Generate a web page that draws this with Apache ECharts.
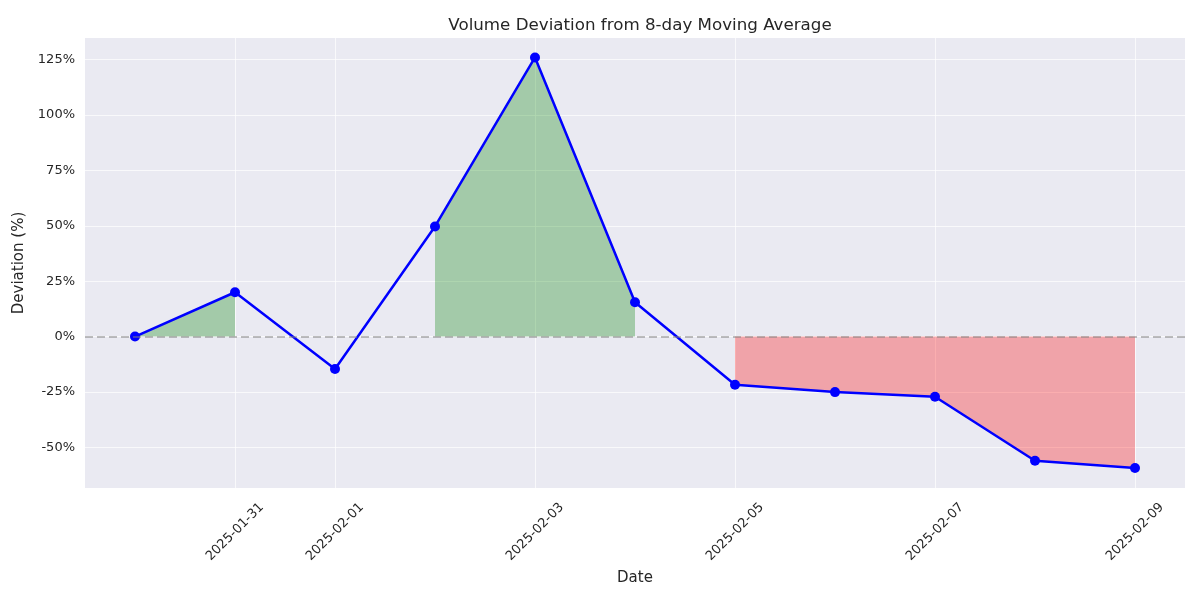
<!DOCTYPE html>
<html>
<head>
<meta charset="utf-8">
<script src="https://cdn.jsdelivr.net/npm/echarts@6/dist/echarts.min.js"></script>
<style>
  html, body { margin: 0; padding: 0; background: #fff; }
  #chart { width: 1200px; height: 600px; }
</style>
</head>
<body>
<div id="chart"></div>
<script>
  // dates of the points (one per day)
  var dates = ['2025-01-30', '2025-01-31', '2025-02-01', '2025-02-02', '2025-02-03', '2025-02-04',
               '2025-02-05', '2025-02-06', '2025-02-07', '2025-02-08', '2025-02-09'];
  // deviation from 8-day moving average, in %
  var deviation = [0, 20.0, -14.7, 49.7, 126.0, 15.5, -21.8, -25.1, -27.2, -56.1, -59.4];
  // tick labels shown on the axes
  var xTickDates = ['2025-01-31', '2025-02-01', '2025-02-03', '2025-02-05', '2025-02-07', '2025-02-09'];
  var yTicks = [-50, -25, 0, 25, 50, 75, 100, 125];

  var xTicks = xTickDates.map(function (d) { return dates.indexOf(d); });
  var linePts = deviation.map(function (v, i) { return [i, v]; });
  // fill_between: above zero -> green, below zero -> red
  var posPts = deviation.map(function (v, i) { return v >= 0 ? [i, v] : [i, '-']; });
  var negPts = deviation.map(function (v, i) { return v < 0 ? [i, v] : [i, '-']; });

  var txt = '#262626';
  var font = 'DejaVu Sans';

  var myChart = echarts.init(document.getElementById('chart'));
  var option = {
    backgroundColor: '#fff',
    animation: false,
    title: {
      text: 'Volume Deviation from 8-day Moving Average',
      left: 635,
      top: 12,
      textAlign: 'center',
      textStyle: { color: txt, fontFamily: font, fontSize: 16.7, fontWeight: 'normal' }
    },
    grid: {
      left: 85, right: 15, top: 38, bottom: 112,
      show: true, backgroundColor: '#EAEAF2', borderWidth: 0
    },
    xAxis: {
      type: 'value',
      min: -0.5,
      max: 10.5,
      name: 'Date',
      nameLocation: 'middle',
      nameGap: 82,
      nameTextStyle: { color: txt, fontFamily: font, fontSize: 15 },
      axisLine: { show: false },
      axisTick: { show: false, customValues: xTicks },
      splitLine: { show: true, lineStyle: { color: 'rgba(255,255,255,0.7)', width: 1 } },
      axisLabel: {
        customValues: xTicks,
        rotate: 45,
        align: 'center',
        verticalAlign: 'middle',
        margin: 44,
        color: txt, fontFamily: font, fontSize: 13,
        formatter: function (v) { return dates[Math.round(v)]; }
      }
    },
    yAxis: {
      type: 'value',
      min: -68.4,
      max: 134.8,
      name: 'Deviation (%)',
      nameLocation: 'middle',
      nameGap: 50,
      nameTextStyle: { color: txt, fontFamily: font, fontSize: 15 },
      axisLine: { show: false },
      axisTick: { show: false, customValues: yTicks },
      splitLine: { show: true, lineStyle: { color: 'rgba(255,255,255,0.7)', width: 1 } },
      axisLabel: {
        customValues: yTicks,
        margin: 10,
        color: txt, fontFamily: font, fontSize: 13,
        formatter: '{value}%'
      }
    },
    series: [
      {
        name: 'pos',
        type: 'line',
        data: posPts,
        showSymbol: false,
        connectNulls: false,
        lineStyle: { width: 0, opacity: 0 },
        areaStyle: { color: 'green', opacity: 0.3 },
        silent: true,
        z: 2
      },
      {
        name: 'neg',
        type: 'line',
        data: negPts,
        showSymbol: false,
        connectNulls: false,
        lineStyle: { width: 0, opacity: 0 },
        areaStyle: { color: 'red', opacity: 0.3 },
        silent: true,
        z: 2,
        markLine: {
          silent: true,
          symbol: 'none',
          label: { show: false },
          lineStyle: { color: 'rgba(128,128,128,0.5)', type: [8, 4], width: 2 },
          data: [{ yAxis: 0 }]
        }
      },
      {
        name: 'deviation',
        type: 'line',
        data: linePts,
        symbol: 'circle',
        symbolSize: 10,
        lineStyle: { color: '#0000ff', width: 2.5 },
        itemStyle: { color: '#0000ff' },
        z: 4
      }
    ]
  };
  myChart.setOption(option);
</script>
</body>
</html>
